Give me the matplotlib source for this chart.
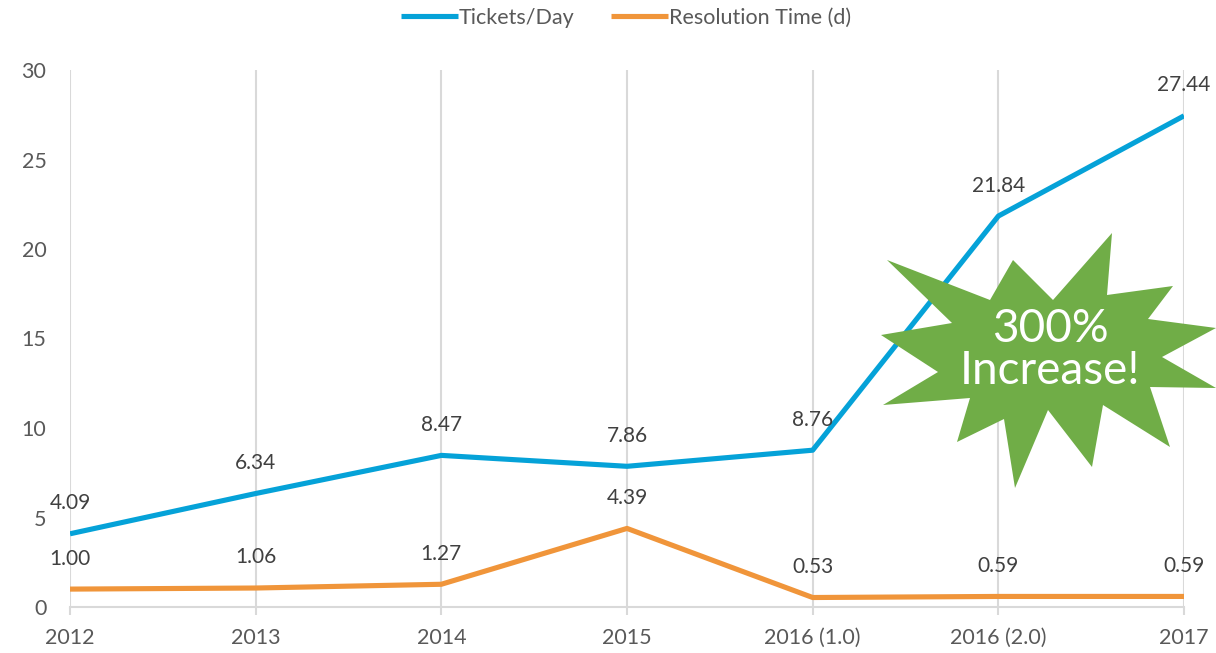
import matplotlib
matplotlib.use('Agg')
import matplotlib.pyplot as plt
from matplotlib.patches import Polygon

categories = ['2012', '2013', '2014', '2015', '2016 (1.0)', '2016 (2.0)', '2017']
tickets_per_day = [4.09, 6.34, 8.47, 7.86, 8.76, 21.84, 27.44]
resolution_time = [1.00, 1.06, 1.27, 4.39, 0.53, 0.59, 0.59]

BLUE = '#05A2D8'
ORANGE = '#F0953A'
GREEN = '#70AD47'
GRID = '#D9D9D9'
TXT = '#595959'

plt.rcParams['font.family'] = ['Lato', 'DejaVu Sans']

W, H = 1216, 653
fig = plt.figure(figsize=(W / 100, H / 100), dpi=100)
ax = fig.add_axes([70 / W, 1 - 607 / H, (1184 - 70) / W, (607 - 70) / H])

x = list(range(len(categories)))
l1, = ax.plot(x, tickets_per_day, color=BLUE, lw=3.7, solid_capstyle='butt', label='Tickets/Day', zorder=3)
l2, = ax.plot(x, resolution_time, color=ORANGE, lw=3.7, solid_capstyle='butt', label='Resolution Time (d)', zorder=3)

for xi, v in zip(x, tickets_per_day):
    ax.annotate('%.2f' % v, (xi, v), xytext=(0, 22), textcoords='offset points',
                ha='center', va='center', fontsize=15, color='#404040')
for xi, v in zip(x, resolution_time):
    ax.annotate('%.2f' % v, (xi, v), xytext=(0, 22), textcoords='offset points',
                ha='center', va='center', fontsize=15, color='#404040')

ax.set_xlim(0, len(categories) - 1)
ax.set_ylim(0, 30)
ax.set_yticks(range(0, 31, 5))
ax.set_xticks(x)
ax.set_xticklabels(categories)
ax.grid(axis='x', color=GRID, lw=1.5)
for s in ['top', 'right', 'left']:
    ax.spines[s].set_visible(False)
ax.spines['bottom'].set_color(GRID)
ax.spines['bottom'].set_linewidth(1.5)
ax.tick_params(axis='x', colors=GRID, length=6, width=1.5, labelcolor=TXT, labelsize=15.5, pad=9)
ax.tick_params(axis='y', length=0, labelcolor=TXT, labelsize=15.5, pad=17)

fig.legend(handles=[l1, l2], loc='center', bbox_to_anchor=(626 / W, 1 - 18 / H), ncol=2,
           frameon=False, fontsize=15.5, labelcolor=TXT, handlelength=2.65,
           handletextpad=0.05, columnspacing=1.7)

# starburst callout
star_px = [(887, 260), (990, 300), (1013, 260), (1053, 300), (1112, 233), (1107, 295),
           (1173, 286), (1148, 319), (1216, 328), (1162, 357), (1216, 388), (1150, 387),
           (1170, 447), (1103, 405), (1092, 467), (1048, 410), (1015, 488), (1004, 419),
           (957, 442), (970, 398), (883, 405), (938, 372), (881, 335), (952, 323)]
star = Polygon([(px / W, 1 - py / H) for px, py in star_px], closed=True,
               facecolor=GREEN, edgecolor='none', transform=fig.transFigure, zorder=5)
fig.add_artist(star)
fig.text(1050 / W, 1 - 350 / H, '300%\nIncrease!', ha='center', va='center',
         color='white', fontsize=33, linespacing=1.0, zorder=6)

fig.savefig('out.png', dpi=100)
